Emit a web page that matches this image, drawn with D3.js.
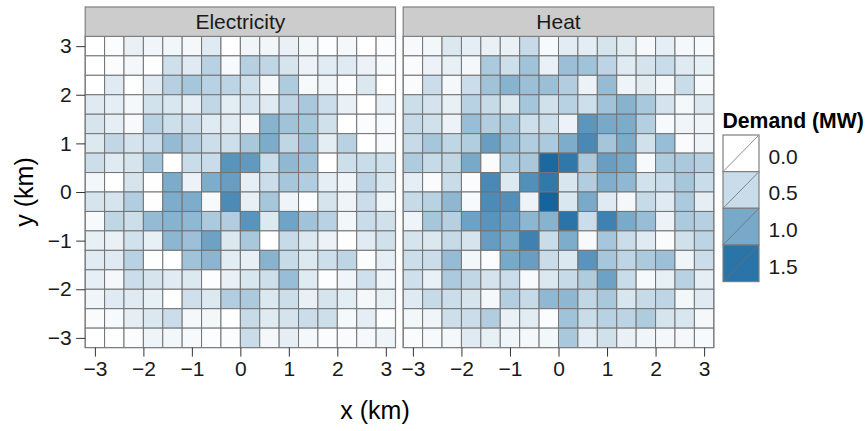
<!DOCTYPE html>
<html><head><meta charset="utf-8">
<script src="https://cdn.jsdelivr.net/npm/d3@7"></script>
<style>body{margin:0;background:#fff;} svg{display:block;font-family:"Liberation Sans",Arial,sans-serif;}</style>
</head><body><svg id="c" width="867" height="431"></svg>
<script>
const gridCoords = [-3.0,-2.6,-2.2,-1.8,-1.4,-1.0,-0.6,-0.2,0.2,0.6,1.0,1.4,1.8,2.2,2.6,3.0];
const yRowsTopDown = [3.0,2.6,2.2,1.8,1.4,1.0,0.6,0.2,-0.2,-0.6,-1.0,-1.4,-1.8,-2.2,-2.6,-3.0];
const panels = ["Electricity","Heat"];
const axisTicks = [-3,-2,-1,0,1,2,3];
const legendBreaks = [0.0,0.5,1.0,1.5];
const legendLabels = ["0.0","0.5","1.0","1.5"];

// rows top (y=3) to bottom (y=-3), columns x=-3 .. 3
const electricity = [
 [0,0.05,0.2,0.15,0.13,0.1,0.3,0,0.15,0.13,0.2,0.12,0.03,0.1,0,0.05],
 [0,0.05,0.1,0.02,0.45,0.3,0.6,0.07,0.62,0.56,0.38,0.18,0.28,0.3,0.18,0.07],
 [0,0.3,0.02,0.3,0.62,0.72,0.6,0.58,0.45,0.1,0.66,0.07,0.14,0.03,0.33,0],
 [0.3,0.25,0.1,0.42,0.35,0.25,0.55,0.26,0.4,0.3,0.57,0.7,0.48,0.2,0,0.23],
 [0.38,0.25,0.07,0.6,0.46,0.48,0.3,0.28,0.1,0.9,0.75,0.72,0.43,0,0.05,0.08],
 [0.32,0.55,0.4,0.48,0.83,0.63,0.47,0.46,0.7,0.97,0.56,0.75,0.26,0.6,0,0.07],
 [0.47,0.3,0.38,0.73,0,0.5,0.5,1.2,1.15,0.5,0.85,0.75,0,0.46,0.5,0.45],
 [0.12,0,0.38,0.01,0.97,0.18,0.96,1.1,0.23,0.48,0.72,0.65,0.24,0.15,0.57,0.36],
 [0.38,0.38,0.65,0.01,0.96,0.96,0.07,1.28,0.22,0.72,0.16,0.03,0.38,0.16,0.48,0.15],
 [0.07,0.56,0.47,0.83,0.9,0.85,0.68,0.65,1.2,0.32,1.05,0.75,0.6,0.12,0.5,0.43],
 [0.22,0.2,0.42,0.22,0.87,0.77,1.07,0.33,0.7,0,0.52,0.33,0.18,0.01,0.28,0.43],
 [0.28,0.3,0.6,0.02,0,0.75,0.88,0.27,0.22,0.9,0.52,0.32,0.46,0.57,0.04,0.24],
 [0.23,0.1,0.48,0.38,0.28,0.32,0.03,0.2,0.36,0.46,0.8,0.3,0.03,0.15,0.44,0.16],
 [0.14,0.3,0.3,0.22,0.02,0.44,0.32,0.65,0.68,0.33,0.47,0.21,0.38,0.26,0.1,0.22],
 [0.06,0.07,0.25,0.33,0.48,0.1,0.12,0,0.52,0.3,0.4,0.48,0.46,0.08,0.25,0.04],
 [0,0.02,0.04,0.16,0.12,0.07,0.03,0.05,0.5,0.1,0.24,0.1,0.04,0.06,0.08,0.16]
];
const heat = [
 [0.07,0.12,0.33,0.25,0.2,0.2,0.52,0.07,0.27,0.26,0.38,0.27,0.08,0.25,0.1,0.07],
 [0.06,0.18,0.22,0.1,0.68,0.46,0.75,0.2,0.78,0.75,0.58,0.3,0.4,0.5,0.3,0.22],
 [0.06,0.48,0.1,0.48,0.75,0.9,0.78,0.78,0.65,0.18,0.82,0.16,0.27,0.1,0.5,0.08],
 [0.47,0.4,0.22,0.6,0.52,0.32,0.73,0.43,0.6,0.46,0.75,0.9,0.7,0.4,0.1,0.33],
 [0.52,0.43,0.18,0.8,0.65,0.68,0.46,0.47,0.18,1.18,1.0,0.97,0.63,0.07,0.14,0.16],
 [0.52,0.72,0.56,0.65,1.1,0.8,0.65,0.68,0.96,1.3,0.73,0.97,0.43,0.8,0.06,0.16],
 [0.66,0.52,0.55,1.0,0.06,0.68,0.7,1.6,1.47,0.69,1.1,0.99,0.07,0.66,0.69,0.62],
 [0.25,0.06,0.5,0.05,1.3,0.32,1.24,1.46,0.36,0.65,0.95,0.85,0.42,0.5,0.72,0.5],
 [0.52,0.6,0.86,0.07,1.28,1.25,0.17,1.65,0.35,0.99,0.3,0.1,0.52,0.3,0.68,0.25],
 [0.16,0.72,0.62,1.07,1.2,1.1,0.87,0.9,1.5,0.48,1.37,0.99,0.8,0.18,0.68,0.62],
 [0.38,0.33,0.52,0.38,1.12,0.99,1.37,0.5,0.96,0.07,0.72,0.48,0.3,0.06,0.43,0.58],
 [0.47,0.48,0.82,0.12,0.05,1.0,1.1,0.5,0.33,1.2,0.72,0.57,0.68,0.77,0.14,0.48],
 [0.44,0.2,0.68,0.55,0.4,0.48,0.07,0.33,0.52,0.66,1.07,0.5,0.08,0.22,0.6,0.24],
 [0.3,0.52,0.48,0.38,0.1,0.64,0.52,0.85,0.86,0.55,0.7,0.36,0.52,0.57,0.12,0.3],
 [0.12,0.14,0.46,0.48,0.65,0.2,0.27,0.05,0.75,0.5,0.6,0.58,0.66,0.38,0.36,0.1],
 [0.06,0.07,0.1,0.3,0.22,0.15,0.1,0.12,0.7,0.24,0.43,0.2,0.14,0.1,0.1,0.07]
];
const panelValues = [electricity, heat];

const svg = d3.select("#c");
const color = d3.scaleLinear().domain(legendBreaks)
  .range(["#ffffff","#c9dce9","#78a9c9","#2b74a8"]).clamp(false);

const panelX = [[85.2,395.5],[403.2,713.8]];
const yRange = [347.6,36.4];
const y = d3.scaleLinear().domain([-3.2,3.2]).range(yRange);
const half = 0.2;
const tileStroke = "#737373";
const txt = "#1a1a1a";
const fontFam = "Liberation Sans, Arial, sans-serif";

panels.forEach((name,pi)=>{
  const x = d3.scaleLinear().domain([-3.2,3.2]).range(panelX[pi]);
  const g = svg.append("g");
  const cells = [];
  yRowsTopDown.forEach((yy,ri)=>gridCoords.forEach((xx,ci)=>cells.push({x:xx,y:yy,v:panelValues[pi][ri][ci]})));
  g.selectAll("rect.tile").data(cells).join("rect").attr("class","tile")
    .attr("x",d=>x(d.x-half)).attr("y",d=>y(d.y+half))
    .attr("width",d=>x(d.x+half)-x(d.x-half)).attr("height",d=>y(d.y-half)-y(d.y+half))
    .attr("fill",d=>color(d.v)).attr("stroke",tileStroke).attr("stroke-width",1);
  g.append("rect").attr("x",panelX[pi][0]).attr("y",yRange[1])
    .attr("width",panelX[pi][1]-panelX[pi][0]).attr("height",yRange[0]-yRange[1])
    .attr("fill","none").attr("stroke","#7f7f7f").attr("stroke-width",1.2);
  g.append("rect").attr("x",panelX[pi][0]).attr("y",7)
    .attr("width",panelX[pi][1]-panelX[pi][0]).attr("height",yRange[1]-7)
    .attr("fill","#cccccc").attr("stroke","#7f7f7f").attr("stroke-width",1.2);
  g.append("text").attr("x",(panelX[pi][0]+panelX[pi][1])/2).attr("y",29)
    .attr("text-anchor","middle").attr("font-size",21).attr("fill",txt).text(name);
  const ax = svg.append("g").attr("transform",`translate(0,${yRange[0]})`)
    .call(d3.axisBottom(x).tickValues(axisTicks).tickSize(9).tickPadding(4).tickFormat(d3.format("d")));
  ax.select(".domain").remove();
  ax.selectAll("line").attr("stroke","#333");
  ax.selectAll("text").attr("font-size",21).attr("fill",txt).attr("font-family",fontFam);
});

const ay = svg.append("g").attr("transform",`translate(${panelX[0][0]},0)`)
  .call(d3.axisLeft(y).tickValues(axisTicks).tickSize(9).tickPadding(4.5).tickFormat(d3.format("d")));
ay.select(".domain").remove();
ay.selectAll("line").attr("stroke","#333");
ay.selectAll("text").attr("font-size",21).attr("fill",txt).attr("font-family",fontFam);

svg.append("text").attr("x",375).attr("y",419)
  .attr("text-anchor","middle").attr("font-size",25).attr("fill","#000").text("x (km)");
svg.append("text").attr("transform",`translate(33,${(yRange[0]+yRange[1])/2}) rotate(-90)`)
  .attr("text-anchor","middle").attr("font-size",25).attr("fill","#000").text("y (km)");

const lg = svg.append("g");
lg.append("text").attr("x",722.5).attr("y",127.5).attr("font-size",21.2).attr("font-weight","bold").attr("fill","#000").text("Demand (MW)");
const keyY = d3.scaleBand().domain(legendLabels).range([135,281.6]);
legendBreaks.forEach((b,i)=>{
  const y0 = keyY(legendLabels[i]), h = keyY.bandwidth();
  lg.append("rect").attr("x",723).attr("y",y0).attr("width",36).attr("height",h)
    .attr("fill",color(b)).attr("stroke","#7f7f7f").attr("stroke-width",1.2);
  lg.append("line").attr("x1",724).attr("y1",y0+h-1).attr("x2",758).attr("y2",y0+1)
    .attr("stroke","#6e6e6e").attr("stroke-width",0.8);
  lg.append("text").attr("x",768.5).attr("y",y0+h/2+10.3).attr("font-size",21).attr("fill",txt).text(legendLabels[i]);
});
</script></body></html>
